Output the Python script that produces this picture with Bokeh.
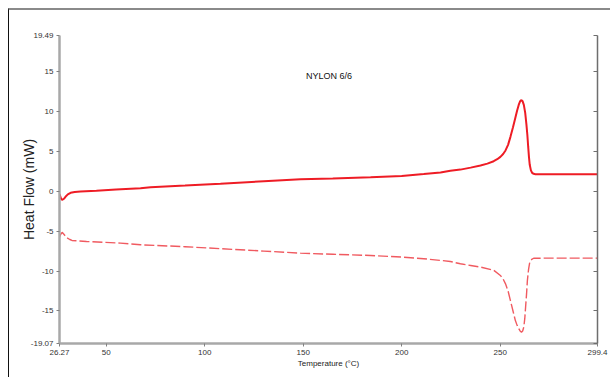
from bokeh.plotting import figure
from bokeh.models import FixedTicker, LinearAxis, Label, Range1d
from bokeh.embed import file_html
from bokeh.resources import INLINE

# ---- data ----
x_min, x_max = 26.27, 299.4
y_min, y_max = -19.07, 19.49
x_ticks = [26.27, 50, 100, 150, 200, 250, 299.4]
x_tick_labels = ["26.27", "50", "100", "150", "200", "250", "299.4"]
y_ticks = [-19.07, -15, -10, -5, 0, 5, 10, 15, 19.49]
y_tick_labels = ["-19.07", "-15", "-10", "-5", "0", "5", "10", "15", "19.49"]

heat_temp = [26.27, 27.0, 27.6, 28.5, 29.3, 30.5, 31.9, 34.0, 36.9, 45, 55, 67.4,
             72.5, 90, 108, 130, 148.6, 165, 184.2, 200, 211.2, 219.7, 224.7,
             229.8, 235, 240.0, 243.5, 246.7, 248.5, 250.1, 251.5, 252.7, 254.0,
             255.2, 256.5, 257.7, 258.6, 259.4, 260.1, 260.8, 261.4, 262.0, 262.7,
             263.3, 263.8, 264.2, 264.6, 265.0, 265.6, 266.2, 267.0, 267.9, 275,
             299.4]
heat_flow = [-0.35, -0.9, -1.1, -0.95, -0.7, -0.4, -0.2, -0.1, -0.04, 0.05, 0.2, 0.38,
             0.5, 0.7, 0.93, 1.25, 1.48, 1.6, 1.75, 1.9, 2.15, 2.35, 2.55,
             2.7, 2.95, 3.22, 3.45, 3.75, 4.0, 4.3, 4.65, 5.1, 5.8,
             6.8, 8.0, 9.2, 10.1, 10.8, 11.25, 11.4, 11.25, 10.8, 9.8,
             8.4, 7.0, 5.6, 4.3, 3.3, 2.6, 2.3, 2.17, 2.13, 2.12,
             2.13]

cool_temp = [26.27, 26.9, 27.6, 28.5, 30.1, 31.5, 32.6, 40, 57.2, 67.4, 90, 108,
             130, 148.6, 165, 184.2, 200, 211.2, 219.7, 224.7, 229.8, 235, 240,
             246.7, 250.1, 251.5, 252.7, 254.0, 255.2, 256.5, 257.7, 258.6, 259.4,
             260.1, 260.8, 261.4, 262.0, 262.5, 262.9, 263.4, 263.8, 264.4, 265.0,
             266.0, 267.0, 275, 299.4]
cool_flow = [-5.75, -5.4, -5.15, -5.4, -5.85, -6.05, -6.17, -6.3, -6.5, -6.71, -6.95, -7.2,
             -7.5, -7.76, -7.9, -8.05, -8.25, -8.46, -8.67, -8.8, -9.09, -9.3, -9.5,
             -9.9, -10.55, -11.0, -11.6, -12.5, -13.7, -15.0, -16.2, -16.8, -17.2,
             -17.5, -17.65, -17.5, -17.0, -15.9, -14.5, -12.8, -11.2, -9.8, -8.9,
             -8.55, -8.4, -8.38, -8.38]

title_text = "NYLON 6/6"
x_label = "Temperature (°C)"
y_label = "Heat Flow (mW)"

FONT = "Liberation Sans"

p = figure(width=602, height=369, output_backend="svg", toolbar_location=None,
           x_range=Range1d(x_min, x_max), y_range=Range1d(y_min, y_max),
           min_border_left=50, min_border_right=14, min_border_top=25,
           min_border_bottom=36)
p.styles = {"margin-left": "8px", "margin-top": "8px",
            "border-left": "1px solid #111111", "border-top": "2px solid #8a8a8a"}
p.outline_line_color = None
p.xgrid.visible = False
p.ygrid.visible = False
p.background_fill_color = "white"
p.border_fill_color = "white"

# axes
xa = p.xaxis[0]
xa.ticker = FixedTicker(ticks=x_ticks)
xa.major_label_overrides = {t: s for t, s in zip(x_ticks, x_tick_labels)}
xa.axis_line_color = "#a8a8a8"
xa.axis_line_width = 2.5
xa.major_tick_line_color = "#808080"
xa.major_tick_in = 0
xa.major_tick_out = 3
xa.minor_tick_line_color = None
xa.major_label_text_font = FONT
xa.major_label_text_font_size = "8px"
xa.major_label_text_color = "#333333"
xa.major_label_standoff = 3
xa.axis_label = x_label
xa.axis_label_text_font = FONT
xa.axis_label_text_font_size = "8px"
xa.axis_label_text_font_style = "normal"
xa.axis_label_text_color = "#222222"
xa.axis_label_standoff = 1

ya = p.yaxis[0]
ya.ticker = FixedTicker(ticks=y_ticks)
ya.major_label_overrides = {t: s for t, s in zip(y_ticks, y_tick_labels)}
ya.axis_line_color = "#a8a8a8"
ya.axis_line_width = 2.5
ya.major_tick_line_color = "#808080"
ya.major_tick_in = 0
ya.major_tick_out = 3
ya.minor_tick_line_color = None
ya.major_label_text_font = FONT
ya.major_label_text_font_size = "8px"
ya.major_label_text_color = "#333333"
ya.major_label_standoff = 3
ya.axis_label = y_label
ya.axis_label_text_font = FONT
ya.axis_label_text_font_size = "14px"
ya.axis_label_text_font_style = "normal"
ya.axis_label_text_color = "#222222"
ya.axis_label_standoff = -9

ra = LinearAxis(ticker=FixedTicker(ticks=y_ticks),
                major_label_overrides={t: "" for t in y_ticks},
                major_tick_in=4, major_tick_out=0, minor_tick_line_color=None,
                axis_line_color="#6e6e6e", axis_line_width=1.5,
                major_tick_line_color="#6e6e6e", major_label_standoff=0)
p.add_layout(ra, "right")

# curves
p.line(cool_temp, cool_flow, line_color="#f05a60", line_width=1.4, line_dash="10 3")
p.line(heat_temp, heat_flow, line_color="#ee1c25", line_width=2)

p.add_layout(Label(x=163.1, y=14.4, text=title_text, text_align="center",
                   text_baseline="middle", text_font=FONT, text_font_size="9px",
                   text_color="#111111"))

open("out.html", "w").write(file_html(p, INLINE))
